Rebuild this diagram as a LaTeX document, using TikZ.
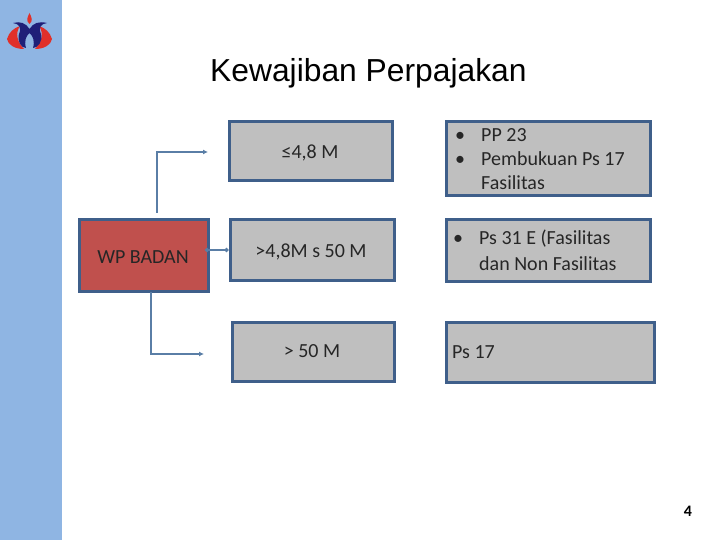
\documentclass[tikz,border=0pt]{standalone}
\usepackage{fontspec}
\setmainfont{Carlito}
\newfontfamily\titlefont{Liberation Sans}
\usetikzlibrary{arrows.meta}
\definecolor{side}{HTML}{8FB5E3}
\definecolor{edge}{HTML}{3F5F8A}
\definecolor{fillg}{HTML}{BFBFBF}
\definecolor{wpred}{HTML}{C0504D}
\definecolor{conn}{HTML}{5A7EA6}
\definecolor{logoblue}{HTML}{1F1F78}
\definecolor{logored}{HTML}{E0302A}
\tikzset{
  x=1pt,y=-1pt,
  gbox/.style={draw=edge,line width=3pt,fill=fillg,inner sep=0pt,anchor=north west},
  rbox/.style={draw=edge,line width=3pt,fill=wpred,inner sep=0pt,anchor=north west},
  lab/.style={font=\fontsize{20}{24}\selectfont,text=black!85,inner sep=0pt},
  conn/.style={draw=conn,line width=1.3pt,-{Latex[length=5pt,width=5pt]}}
}
\begin{document}
\begin{tikzpicture}
\useasboundingbox (0,0) rectangle (720,540);
\fill[white] (0,0) rectangle (720,540);
\fill[side] (0,0) rectangle (62,540);
% logo
\fill[logored] (7,39) .. controls (9,32) and (14,28) .. (20,26) .. controls (15,33) and (17,42) .. (24,49) .. controls (15,49) and (8,45) .. (7,39) -- cycle;
\fill[logored] (52,39) .. controls (50,32) and (45,28) .. (39,26) .. controls (44,33) and (42,42) .. (35,49) .. controls (44,49) and (51,45) .. (52,39) -- cycle;
\fill[logored] (29.5,13) .. controls (27,18) and (26,21) .. (29.5,24) .. controls (33,21) and (32,18) .. (29.5,13) -- cycle;
\fill[logoblue] (13,23) .. controls (20,21) and (26,23) .. (29.5,29) .. controls (33,23) and (39,21) .. (47,23) .. controls (41,24) and (38,27) .. (41,34) .. controls (43,41) and (38,48) .. (33,48) .. controls (35,41) and (33,36) .. (29.5,33) .. controls (26,36) and (24,41) .. (26,48) .. controls (21,48) and (17,41) .. (19,34) .. controls (22,27) and (19,24) .. (13,23) -- cycle;
% boxes
\node[gbox,minimum width=163pt,minimum height=59pt] (a1) at (227.5,120.5) {};
\node[gbox,minimum width=164pt,minimum height=60pt] (a2) at (228.5,218.5) {};
\node[gbox,minimum width=162pt,minimum height=59pt] (a3) at (230.5,320.5) {};
\node[gbox,minimum width=204pt,minimum height=74pt] (b1) at (444.5,120.5) {};
\node[gbox,minimum width=204pt,minimum height=61pt] (b2) at (444.5,218.5) {};
\node[gbox,minimum width=208pt,minimum height=60pt] (b3) at (444.5,320.5) {};
\node[rbox,minimum width=129pt,minimum height=71pt] (wp) at (77.5,218.5) {};
% labels
\node[font=\titlefont\fontsize{31.8}{38}\selectfont,anchor=base west,inner sep=0pt] (title) at (210,82) {Kewajiban Perpajakan};
\node[lab,anchor=base] (wplab) at (143,263) {WP BADAN};
\node[lab,anchor=base] (a1lab) at (310,159) {≤4,8 M};
\node[lab,anchor=base] (a2lab) at (311,257) {>4,8M s 50 M};
\node[lab,anchor=base] (a3lab) at (312,357) {> 50 M};
\node[lab,anchor=base west] (b11) at (455,142) {•};
\node[lab,anchor=base west] (b11t) at (481,142) {PP 23};
\node[lab,anchor=base west] (b12) at (455,166) {•};
\node[lab,anchor=base west] (b12t) at (481,166) {Pembukuan Ps 17};
\node[lab,anchor=base west] (b13) at (481,190) {Fasilitas};
\node[lab,anchor=base west] (b21) at (453,244) {•};
\node[lab,anchor=base west] (b21t) at (479,244) {Ps 31 E (Fasilitas};
\node[lab,anchor=base west] (b22) at (479,270) {dan Non Fasilitas};
\node[lab,anchor=base west] (b3lab) at (452,358) {Ps 17};
\node[font=\bfseries\fontsize{16}{19}\selectfont,anchor=base,inner sep=0pt] (pg) at (688,516) {4};
% connectors
\coordinate (c1s) at (157,213);
\coordinate (c1e) at (208,152);
\coordinate (c2s) at (151,292);
\coordinate (c2e) at (204,354);
\coordinate (c3s) at (205,250);
\draw[conn] (c1s) |- (c1e);
\draw[conn] (c2s) |- (c2e);
\draw[draw=conn,line width=1.6pt,{Circle[length=4pt]}-{Circle[length=4pt]}] (c3s) -- (c3s -| a2.west);
\end{tikzpicture}
\end{document}
